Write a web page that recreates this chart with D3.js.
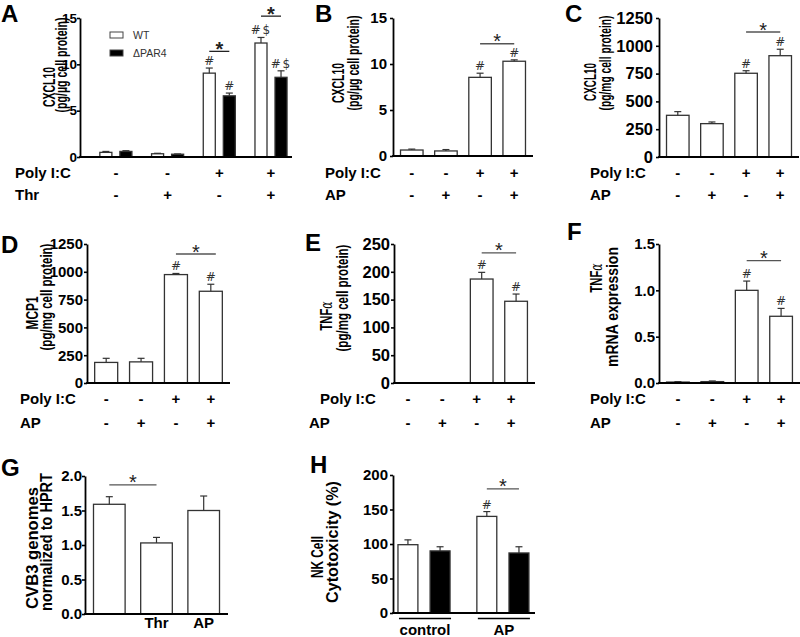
<!DOCTYPE html>
<html><head><meta charset="utf-8">
<script src="https://cdn.jsdelivr.net/npm/d3@7"></script>
<style>
body{margin:0;background:#fff;}
svg{display:block;}
</style></head><body>
<svg id="fig" width="800" height="637"></svg>
<script>
// ---------------- data ----------------
const conditions = ["c1","c2","c3","c4"];
const polyIC = ["-","-","+","+"];
const thrSigns = ["-","+","-","+"];
const apSigns = ["-","+","-","+"];

// A: CXCL10 (pg/µg cell protein), WT vs ΔPAR4
const seriesA = ["WT","ΔPAR4"];
const wtA = [0.5, 0.35, 9.05, 12.3];
const wtErrA = [0.1, 0.05, 0.55, 0.6];
const par4A = [0.6, 0.3, 6.6, 8.6];
const par4ErrA = [0.08, 0.03, 0.3, 0.7];
const marksWtA = ["", "", "#", "# $"];
const marksPar4A = ["", "", "#", "# $"];
const sigLevelsA = [11.4, 15.2];

// B: CXCL10 (pg/µg cell protein)
const valsB = [0.65, 0.55, 8.55, 10.3];
const errB = [0.1, 0.15, 0.45, 0.15];
const marksB = ["", "", "#", "#"];

// C: CXCL10 (pg/mg cell protein)
const valsC = [375, 300, 753, 911];
const errC = [33, 15, 23, 58];
const marksC = ["", "", "#", "#"];

// D: MCP1
const valsD = [185, 190, 975, 825];
const errD = [37, 32, 10, 63];
const marksD = ["", "", "#", "#"];

// E: TNFα protein
const valsE = [0, 0, 187, 147];
const errE = [0, 0, 12, 13];
const marksE = ["", "", "#", "#"];

// F: TNFα mRNA
const valsF = [0.01, 0.015, 1.0, 0.72];
const errF = [0.005, 0.007, 0.1, 0.085];
const marksF = ["", "", "#", "#"];

// G: CVB3 genomes
const catsG = ["", "Thr", "AP"];
const valsG = [1.59, 1.03, 1.5];
const errG = [0.11, 0.08, 0.21];

// H: NK cell cytotoxicity
const groupsH = ["control", "AP"];
const whiteH = [99, 140];
const whiteErrH = [7, 7];
const blackH = [90, 87];
const blackErrH = [6, 9];
const marksWhiteH = ["", "#"];

const ticks15 = [0, 5, 10, 15];
const ticks1250 = [0, 250, 500, 750, 1000, 1250];
const ticks250 = [0, 50, 100, 150, 200, 250];
const ticks15f = [0, 0.5, 1.0, 1.5];
const ticks2f = [0, 0.5, 1.0, 1.5, 2.0];
const ticks200 = [0, 50, 100, 150, 200];

// ---------------- drawing helpers ----------------
const FONT = "'Liberation Sans', Arial, Helvetica, sans-serif";
const svg = d3.select("#fig").attr("font-family", FONT);

function txt(t, x, y, size, opts = {}) {
  return svg.append("text").attr("x", x).attr("y", y).text(t)
    .attr("font-family", opts.family || FONT)
    .attr("font-size", size)
    .attr("font-weight", opts.weight || "bold")
    .attr("text-anchor", opts.anchor || "start")
    .attr("fill", opts.fill || "#000");
}

function axes(x0, x1, y, ticks, fmt, fs, gap) {
  const g = svg.append("g").attr("transform", `translate(${x0},0)`);
  g.call(d3.axisLeft(y).tickValues(ticks).tickFormat(fmt).tickSize(3).tickSizeOuter(0).tickPadding(Math.max(0, gap - 3)));
  g.select(".domain").attr("stroke", "#000").attr("stroke-width", 1.8);
  g.selectAll(".tick line").attr("stroke", "#000").attr("stroke-width", 1.6);
  g.selectAll(".tick text").attr("font-family", FONT).attr("font-size", fs)
    .attr("font-weight", "bold").attr("fill", "#000");
  svg.append("line").attr("x1", x0 - 0.9).attr("x2", x1)
    .attr("y1", y(0)).attr("y2", y(0)).attr("stroke", "#000").attr("stroke-width", 1.8);
}

// rotated title: centred at (cx, cy), squeezed along its length to `len` px
function fitRotated(t, cx, cy, size, len) {
  const nat = t.node().getComputedTextLength();
  const s = len / nat;
  t.attr("text-anchor", "middle")
   .attr("transform", `translate(${cx + size * 0.36},${cy}) rotate(-90) scale(${s},1)`);
  return t;
}
function rotTitle(text, cx, cy, size, len) {
  const t = svg.append("text").attr("font-weight", "bold").attr("font-family", FONT)
    .attr("font-size", size).text(text);
  return fitRotated(t, cx, cy, size, len);
}
function rotTNF(cx, cy, size, len) {
  const t = svg.append("text").attr("font-size", size).attr("font-family", FONT);
  t.append("tspan").attr("font-weight", "bold").text("TNF");
  t.append("tspan").attr("font-weight", "normal").attr("font-size", size * 0.95)
    .attr("font-family", "'DejaVu Serif', serif").attr("font-style", "italic").text("α");
  return fitRotated(t, cx, cy, size, len);
}

function drawBars(items, y, fill) {
  const g = svg.append("g");
  const data = items.filter(d => d.v > 0);
  g.selectAll("rect").data(data).join("rect")
    .attr("x", d => d.x).attr("width", d => d.w)
    .attr("y", d => y(d.v)).attr("height", d => y(0) - y(d.v))
    .attr("fill", fill).attr("stroke", "#333").attr("stroke-width", 1.3);
  const eg = data.filter(d => d.e > 0);
  g.selectAll("line.err").data(eg).join("line").attr("class", "err")
    .attr("x1", d => d.x + d.w / 2).attr("x2", d => d.x + d.w / 2)
    .attr("y1", d => y(d.v)).attr("y2", d => y(d.v + d.e))
    .attr("stroke", "#333").attr("stroke-width", 1.2);
  g.selectAll("line.cap").data(eg).join("line").attr("class", "cap")
    .attr("x1", d => d.x + d.w / 2 - 3.5).attr("x2", d => d.x + d.w / 2 + 3.5)
    .attr("y1", d => y(d.v + d.e)).attr("y2", d => y(d.v + d.e))
    .attr("stroke", "#333").attr("stroke-width", 1.2);
  // significance marks: each symbol as its own text element
  data.filter(d => d.m).forEach(d => {
    const syms = d.m.split(" ");
    const sp = 10.5;
    syms.forEach((s, j) => {
      txt(s, d.x + d.w / 2 + (j - (syms.length - 1) / 2) * sp, y(d.v + d.e) - 3, 12,
          { weight: "normal", anchor: "middle", fill: "#333", family: "'DejaVu Sans', sans-serif" })
        .style("fill", "#333");
    });
  });
}

function items(keys, xs, off, bw, vals, errs, marks) {
  return keys.map((k, i) => ({ x: xs(k) + off, w: bw, v: vals[i], e: errs[i], m: marks ? marks[i] : "" }));
}

function sig(xa, xb, yl, size, bold) {
  svg.append("line").attr("x1", xa).attr("x2", xb).attr("y1", yl).attr("y2", yl)
    .attr("stroke", bold ? "#222" : "#555").attr("stroke-width", 1.3);
  txt("*", (xa + xb) / 2, yl - 7 + 0.575 * size, size,
      { anchor: "middle", weight: bold ? "bold" : "normal", fill: "#222" });
}

function signRow(label, lx, base, signs, centers) {
  txt(label, lx, base, 15);
  signs.forEach((s, i) => txt(s, centers[i], base, 15, { anchor: "middle" }));
}

function band4(x0, x1) {
  return d3.scaleBand().domain(conditions).range([x0, x1]).paddingInner(0.34).paddingOuter(0.22);
}
const ctr = xs => xs.domain().map(k => xs(k) + xs.bandwidth() / 2);
const TS = 17; // title font size
const LS = 24; // panel letter size

// ---------------- Panel A ----------------
{
  const y = d3.scaleLinear().domain([0, 15]).range([157, 18]);
  const xg = d3.scaleBand().domain(conditions).range([80, 292]).paddingInner(0.38).paddingOuter(0.24).align(0.8);
  const xs = d3.scaleBand().domain(seriesA).range([0, xg.bandwidth()]).paddingInner(0.4);
  drawBars(items(conditions, xg, xs("WT"), xs.bandwidth(), wtA, wtErrA, marksWtA), y, "#fff");
  drawBars(items(conditions, xg, xs("ΔPAR4"), xs.bandwidth(), par4A, par4ErrA, marksPar4A), y, "#000");
  axes(80, 292, y, ticks15, d3.format("d"), 13.5, 3);
  ["c3", "c4"].forEach((c, i) => {
    sig(xg(c) + xs("WT") + xs.bandwidth() / 2, xg(c) + xs("ΔPAR4") + xs.bandwidth() / 2, y(sigLevelsA[i]), 20, true);
  });
  // legend
  seriesA.forEach((s, i) => {
    svg.append("rect").attr("x", 110).attr("y", 32 + i * 18).attr("width", 13).attr("height", 6)
      .attr("fill", i ? "#000" : "#fff").attr("stroke", "#444").attr("stroke-width", 1);
    txt(s, 133, 39 + i * 18, 10.5, { weight: "normal", fill: "#333" });
  });
  rotTitle("CXCL10", 49, 87, TS, 40);
  rotTitle("(pg/µg cell protein)", 61, 65, TS, 95);
  txt("A", 1, 22, LS);
  signRow("Poly I:C", 15, 178, polyIC, ctr(xg));
  signRow("Thr", 15, 200, thrSigns, ctr(xg));
}

// ---------------- Panel B ----------------
{
  const y = d3.scaleLinear().domain([0, 15]).range([156, 18]);
  const xs = band4(393, 533);
  drawBars(items(conditions, xs, 0, xs.bandwidth(), valsB, errB, marksB), y, "#fff");
  axes(393, 533, y, ticks15, d3.format("d"), 15, 6);
  const c = ctr(xs);
  sig(c[2], c[3], y(12.2), 20, false);
  rotTitle("CXCL10", 338, 83, TS, 40);
  rotTitle("(pg/µg cell protein)", 353, 63, TS, 95);
  txt("B", 315, 22, LS);
  signRow("Poly I:C", 325, 178, polyIC, c);
  signRow("AP", 325, 200, apSigns, c);
}

// ---------------- Panel C ----------------
{
  const y = d3.scaleLinear().domain([0, 1250]).range([157, 18]);
  const xs = band4(659, 799);
  drawBars(items(conditions, xs, 0, xs.bandwidth(), valsC, errC, marksC), y, "#fff");
  axes(659, 799, y, ticks1250, d3.format("d"), 16.5, 6);
  const c = ctr(xs);
  sig(c[2], c[3], y(1124), 20, false);
  rotTitle("CXCL10", 590, 82, TS, 38);
  rotTitle("(pg/mg cell protein)", 605, 63, TS, 95);
  txt("C", 565, 22, LS);
  signRow("Poly I:C", 590, 178, polyIC, c);
  signRow("AP", 590, 200, apSigns, c);
}

// ---------------- Panel D ----------------
{
  const y = d3.scaleLinear().domain([0, 1250]).range([383, 244]);
  const xs = band4(87, 230);
  drawBars(items(conditions, xs, 0, xs.bandwidth(), valsD, errD, marksD), y, "#fff");
  axes(87, 230, y, ticks1250, d3.format("d"), 15, 4);
  const c = ctr(xs);
  sig(c[2], c[3] + 5, y(1160), 20, false);
  rotTitle("MCP1", 32, 313, TS, 33);
  rotTitle("(pg/mg cell protein)", 46, 297, TS, 107);
  txt("D", 1, 253, LS);
  signRow("Poly I:C", 20, 404, polyIC, c);
  signRow("AP", 20, 428, apSigns, c);
}

// ---------------- Panel E ----------------
{
  const y = d3.scaleLinear().domain([0, 250]).range([383, 244]);
  const xs = band4(394, 535);
  drawBars(items(conditions, xs, 0, xs.bandwidth(), valsE, errE, marksE), y, "#fff");
  axes(394, 535, y, ticks250, d3.format("d"), 16.5, 4);
  const c = ctr(xs);
  sig(c[2], c[3], y(234), 20, false);
  rotTNF(326, 316, TS, 29);
  rotTitle("(pg/mg cell protein)", 342, 298, TS, 107);
  txt("E", 305, 251, LS);
  signRow("Poly I:C", 320, 404, polyIC, c.map(v => v - 5));
  signRow("AP", 309, 428, apSigns, c.map(v => v - 5));
}

// ---------------- Panel F ----------------
{
  const y = d3.scaleLinear().domain([0, 1.5]).range([383, 244]);
  const xs = band4(659, 800);
  drawBars(items(conditions, xs, 0, xs.bandwidth(), valsF, errF, marksF), y, "#fff");
  axes(659, 800, y, ticks15f, d3.format(".1f"), 15, 4);
  const c = ctr(xs);
  sig(c[2], c[3], y(1.32), 20, false);
  rotTNF(596, 278, TS, 29);
  rotTitle("mRNA expression", 612, 307, TS, 120);
  txt("F", 567, 240, LS);
  signRow("Poly I:C", 590, 404, polyIC, c);
  signRow("AP", 590, 428, apSigns, c);
}

// ---------------- Panel G ----------------
{
  const y = d3.scaleLinear().domain([0, 2.0]).range([614, 476]);
  const xs = d3.scaleBand().domain(catsG).range([85, 228]).paddingInner(0.33).paddingOuter(0.18);
  drawBars(items(catsG, xs, 0, xs.bandwidth(), valsG, errG, null), y, "#fff");
  axes(85, 228, y, ticks2f, d3.format(".1f"), 15, 3);
  const c = ctr(xs);
  sig(c[0], c[1], y(1.87), 20, false);
  catsG.forEach((k, i) => { if (k) txt(k, c[i], 628, 15, { anchor: "middle" }); });
  rotTitle("CVB3 genomes", 32, 548, TS, 122);
  rotTitle("normalized to HPRT", 46, 542, TS, 138);
  txt("G", 1, 476, LS);
}

// ---------------- Panel H ----------------
{
  const y = d3.scaleLinear().domain([0, 200]).range([613, 475]);
  const xg = d3.scaleBand().domain(groupsH).range([393, 535]).paddingInner(0.34).paddingOuter(0.07).align(0.45);
  const xs = d3.scaleBand().domain(["white", "black"]).range([0, xg.bandwidth()]).paddingInner(0.38);
  drawBars(items(groupsH, xg, xs("white"), xs.bandwidth(), whiteH, whiteErrH, marksWhiteH), y, "#fff");
  drawBars(items(groupsH, xg, xs("black"), xs.bandwidth(), blackH, blackErrH, null), y, "#000");
  axes(393, 535, y, ticks200, d3.format("d"), 15, 5);
  const g = groupsH[1];
  sig(xg(g) + xs("white") + xs.bandwidth() / 2, xg(g) + xs("black") + xs.bandwidth() / 2, y(180), 20, false);
  groupsH.forEach(k => {
    svg.append("line").attr("x1", xg(k) + 1).attr("x2", xg(k) + xg.bandwidth() + 1)
      .attr("y1", 618.5).attr("y2", 618.5).attr("stroke", "#000").attr("stroke-width", 1.5);
    txt(k, xg(k) + xg.bandwidth() / 2 + 1, 635, 15, { anchor: "middle" });
  });
  rotTitle("NK Cell", 317, 557, TS, 42);
  rotTitle("Cytotoxicity (%)", 332, 542, TS, 122);
  txt("H", 310, 473, LS);
}
</script>
</body></html>
